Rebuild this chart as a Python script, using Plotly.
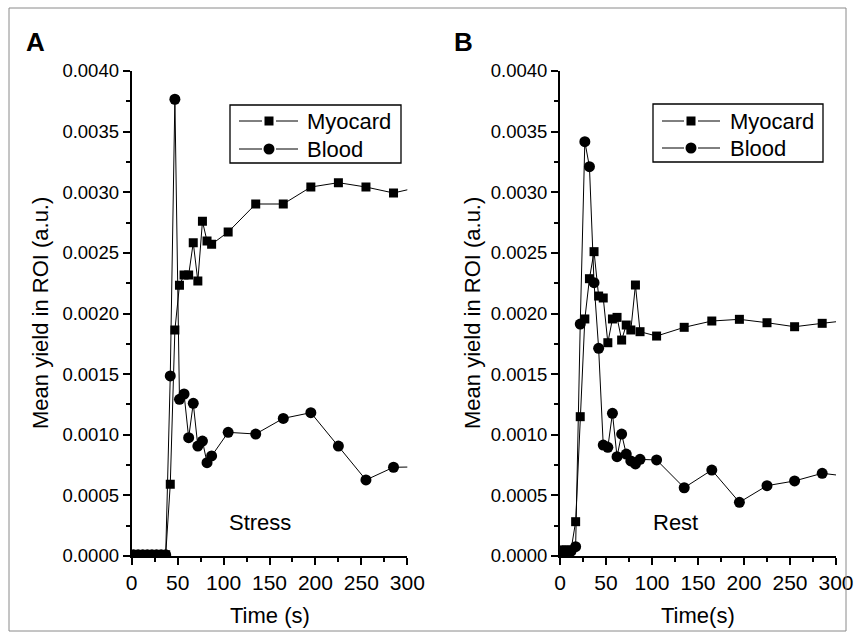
import plotly.graph_objects as go

# ---- data ----
time_s = [2, 7, 12, 17, 22, 27, 32, 37, 42, 47, 52, 57, 62, 67, 72, 77, 82, 87,
          105, 135, 165, 195, 225, 255, 285, 315]

stress_myocard = [0.00001, 0.00001, 0.00001, 0.00001, 0.00001, 0.00001, 0.00001, 0.00001,
                  0.000591, 0.001864, 0.002233, 0.002318, 0.002318, 0.002584, 0.002268,
                  0.002760, 0.002598, 0.002571, 0.002672, 0.002903, 0.002903, 0.003043,
                  0.003079, 0.003043, 0.002994, 0.003046]
stress_blood = [0.00001, 0.00001, 0.00001, 0.00001, 0.00001, 0.00001, 0.00001, 0.00001,
                0.001485, 0.003767, 0.001292, 0.001336, 0.000976, 0.001259, 0.000907,
                0.000948, 0.000770, 0.000825, 0.001020, 0.001006, 0.001135, 0.001182,
                0.000907, 0.000627, 0.000732, 0.000735]

rest_myocard = [0.00005, 0.00005, 0.00005, 0.000283, 0.001149, 0.001955, 0.002287, 0.002510,
                0.002144, 0.002128, 0.001759, 0.001955, 0.001968, 0.001781, 0.001905,
                0.001864, 0.002235, 0.001850, 0.001814, 0.001886, 0.001938, 0.001952,
                0.001924, 0.001891, 0.001919, 0.001945]
rest_blood = [0.00004, 0.00004, 0.00004, 0.000077, 0.001913, 0.003417, 0.003211, 0.002254,
              0.001713, 0.000915, 0.000896, 0.001177, 0.000819, 0.001006, 0.000841,
              0.000784, 0.000759, 0.000797, 0.000792, 0.000563, 0.000709, 0.000443,
              0.000580, 0.000619, 0.000682, 0.000655]

series_names = ["Myocard", "Blood"]
y_ticks = [0.0, 0.0005, 0.0010, 0.0015, 0.0020, 0.0025, 0.0030, 0.0035, 0.0040]
x_ticks = [0, 50, 100, 150, 200, 250, 300]

W, H = 854, 639
FONT = "Liberation Sans, Arial, sans-serif"


def px_x(p):
    return p / W


def px_y(p):
    return 1 - p / H


fig = go.Figure()

panels = [
    ("x", "y", stress_myocard, stress_blood),
    ("x2", "y2", rest_myocard, rest_blood),
]
for xa, ya, myo, blood in panels:
    fig.add_trace(go.Scatter(
        x=time_s, y=myo, name=series_names[0], xaxis=xa, yaxis=ya,
        mode="lines+markers", line=dict(color="black", width=1),
        marker=dict(symbol="square", size=9, color="black"),
    ))
    fig.add_trace(go.Scatter(
        x=time_s, y=blood, name=series_names[1], xaxis=xa, yaxis=ya,
        mode="lines+markers", line=dict(color="black", width=1),
        marker=dict(symbol="circle", size=11, color="black"),
    ))

ax_common = dict(
    showgrid=False, zeroline=False, showline=True, linecolor="black", linewidth=2,
    ticks="outside", ticklen=7, tickwidth=2, tickcolor="black",
    color="black", automargin=False,
)
xcommon = dict(ax_common, range=[0, 300], tickvals=x_ticks,
               tickfont=dict(family=FONT, size=21, color="black"),
               minor=dict(ticks="outside", ticklen=4, tickwidth=2, dtick=25,
                          tick0=0, tickcolor="black"))
ycommon = dict(ax_common, range=[0, 0.0040], tickvals=y_ticks, tickformat=".4f",
               tickfont=dict(family=FONT, size=18.5, color="black"),
               minor=dict(ticks="outside", ticklen=4, tickwidth=2, dtick=0.00025,
                          tick0=0, tickcolor="black"))

yd = [px_y(556), px_y(71)]
fig.update_layout(
    width=W, height=H,
    margin=dict(l=0, r=0, t=0, b=0, pad=0),
    paper_bgcolor="white", plot_bgcolor="white",
    font=dict(family=FONT, color="black"),
    xaxis=dict(xcommon, domain=[px_x(131.7), px_x(407.3)], anchor="y"),
    yaxis=dict(ycommon, domain=yd, anchor="x"),
    xaxis2=dict(xcommon, domain=[px_x(560), px_x(836)], anchor="y2"),
    yaxis2=dict(ycommon, domain=yd, anchor="x2"),
    showlegend=False,
)

annotations = [
    dict(text="<b>A</b>", x=px_x(35), y=px_y(42)),
    dict(text="<b>B</b>", x=px_x(463), y=px_y(42)),
    dict(text="Time (s)", x=px_x(269.5), y=px_y(615)),
    dict(text="Time(s)", x=px_x(698), y=px_y(615)),
    dict(text="Stress", x=px_x(260), y=px_y(522)),
    dict(text="Rest", x=px_x(675), y=px_y(522)),
]
sizes = [26, 26, 22, 22, 22, 22]
ann = []
for a, s in zip(annotations, sizes):
    ann.append(dict(a, xref="paper", yref="paper", showarrow=False,
                    xanchor="center", yanchor="middle",
                    font=dict(family=FONT, size=s, color="black")))
for xc in (40, 472):
    ann.append(dict(text="Mean yield in ROI (a.u.)", x=px_x(xc), y=px_y(313),
                    xref="paper", yref="paper", showarrow=False, textangle=-90,
                    xanchor="center", yanchor="middle",
                    font=dict(family=FONT, size=22, color="black")))

shapes = [dict(type="rect", xref="paper", yref="paper",
               x0=px_x(9), x1=px_x(846), y0=px_y(631), y1=px_y(8),
               line=dict(color="#8a8a8a", width=1), fillcolor="rgba(0,0,0,0)")]

# ---- legends (drawn as decoration) ----
# (box_left, box_right, box_top, box_bottom, line_left, marker_x, line_right, text_x, row_ys)
legends = [
    (230, 401, 105, 163, 239, 269, 298, 305, (121, 149)),
    (653, 823, 104, 162, 662, 691, 720, 728, (121, 148)),
]
for bl, br, bt, bb, ll, mx, lr, tx, rows in legends:
    shapes.append(dict(type="rect", xref="paper", yref="paper",
                       x0=px_x(bl), x1=px_x(br), y0=px_y(bb), y1=px_y(bt),
                       line=dict(color="black", width=1.3), fillcolor="white"))
    for i, ry in enumerate(rows):
        for x0, x1 in ((ll, mx - 7), (mx + 7, lr)):
            shapes.append(dict(type="line", xref="paper", yref="paper",
                               x0=px_x(x0), x1=px_x(x1), y0=px_y(ry), y1=px_y(ry),
                               line=dict(color="black", width=1)))
        if i == 0:
            shapes.append(dict(type="rect", xref="paper", yref="paper",
                               x0=px_x(mx - 4.5), x1=px_x(mx + 4.5),
                               y0=px_y(ry + 4.5), y1=px_y(ry - 4.5),
                               line=dict(width=0), fillcolor="black"))
        else:
            shapes.append(dict(type="circle", xref="paper", yref="paper",
                               x0=px_x(mx - 5.5), x1=px_x(mx + 5.5),
                               y0=px_y(ry + 5.5), y1=px_y(ry - 5.5),
                               line=dict(width=0), fillcolor="black"))
        ann.append(dict(text=series_names[i], x=px_x(tx), y=px_y(ry),
                        xref="paper", yref="paper", showarrow=False,
                        xanchor="left", yanchor="middle",
                        font=dict(family=FONT, size=22, color="black")))

fig.update_layout(annotations=ann, shapes=shapes)

fig.write_html("out.html")
